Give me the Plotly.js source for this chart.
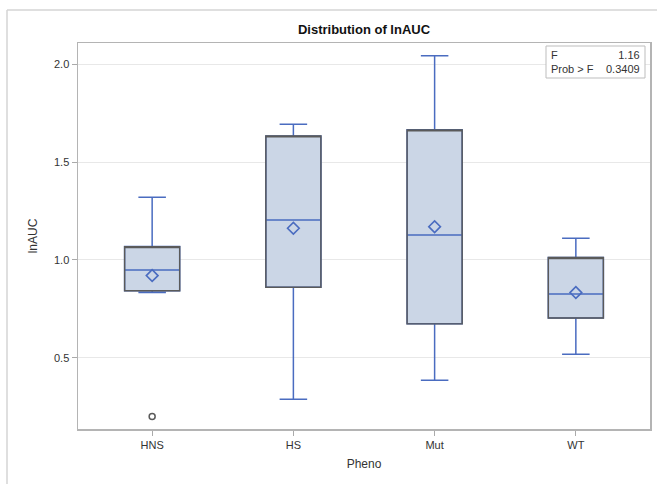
<!DOCTYPE html>
<html>
<head>
<meta charset="utf-8">
<script src="https://cdn.plot.ly/plotly-3.0.1.min.js"></script>
<style>
html,body{margin:0;padding:0;background:#fff;}
#chart{width:657px;height:484px;}
</style>
</head>
<body>
<div id="chart"></div>
<script>
// Data
var categories = ["HNS", "HS", "Mut", "WT"];
var lowerWhisker = [0.833, 0.288, 0.385, 0.518];
var q1Values = [0.842, 0.860, 0.673, 0.703];
var medianValues = [0.949, 1.204, 1.128, 0.826];
var q3Values = [1.068, 1.634, 1.665, 1.012];
var upperWhisker = [1.320, 1.694, 2.044, 1.111];
var meanValues = [0.920, 1.162, 1.170, 0.833];
var outlierCategories = ["HNS"];
var outlierValues = [0.199];
var statLabels = ["F", "Prob > F"];
var statValues = ["1.16", "0.3409"];
var yTickValues = [0.5, 1.0, 1.5, 2.0];

var blue = "#4a6cc0";
var fill = "#cbd6e6";
var outline = "#5a5a5a";
var fontFam = "Liberation Sans, Arial, sans-serif";

var traces = [
  {
    type: "box", orientation: "v",
    x: categories,
    q1: q1Values, median: medianValues, q3: q3Values,
    lowerfence: lowerWhisker, upperfence: upperWhisker,
    width: 0.39, whiskerwidth: 0.5,
    fillcolor: fill,
    line: {color: blue, width: 1.5},
    boxpoints: false, hoverinfo: "skip", showlegend: false
  },
  {
    type: "box", orientation: "v",
    x: categories,
    q1: q1Values, median: q3Values, q3: q3Values,
    lowerfence: q1Values, upperfence: q3Values,
    width: 0.39, whiskerwidth: 0,
    fillcolor: "rgba(0,0,0,0)",
    line: {color: outline, width: 1.4},
    boxpoints: false, hoverinfo: "skip", showlegend: false
  },
  {
    type: "scatter", mode: "markers",
    x: categories, y: meanValues,
    marker: {symbol: "diamond-open", size: 9, color: blue, line: {width: 1.6, color: blue}},
    hoverinfo: "skip", showlegend: false
  },
  {
    type: "scatter", mode: "markers",
    x: outlierCategories, y: outlierValues,
    marker: {symbol: "circle-open", size: 6, color: outline, line: {width: 1.5, color: outline}},
    hoverinfo: "skip", showlegend: false
  }
];

// plot area pixels: left 78, right 650, top 43, bottom 429
function px(x){ return (x - 78) / 572; }
function py(y){ return (429 - y) / 386; }

var layout = {
  width: 657, height: 484,
  margin: {l: 78, r: 7, t: 43, b: 55, pad: 0},
  paper_bgcolor: "#ffffff", plot_bgcolor: "#ffffff",
  font: {family: fontFam, size: 11, color: "#333333"},
  boxmode: "overlay",
  title: {
    text: "<b>Distribution of lnAUC</b>",
    font: {family: fontFam, size: 13, color: "#111111"},
    x: 0.5, xref: "paper", xanchor: "center",
    y: 1 - 29/484, yanchor: "middle"
  },
  xaxis: {
    type: "category",
    range: [-0.525, 3.525],
    showgrid: false, zeroline: false,
    showline: true, mirror: true, linecolor: "#b4b4b4", linewidth: 1.5,
    ticks: "outside", ticklen: 5, tickcolor: "#aaaaaa", tickwidth: 1,
    tickfont: {family: fontFam, size: 11, color: "#333333"},
    title: {text: "Pheno", font: {family: fontFam, size: 12, color: "#333333"}, standoff: 10}
  },
  yaxis: {
    range: [0.1355, 2.109],
    tickvals: yTickValues,
    tickformat: ".1f",
    showgrid: true, gridcolor: "#e8e8e8", gridwidth: 1,
    zeroline: false,
    showline: true, mirror: true, linecolor: "#b4b4b4", linewidth: 1.5,
    ticks: "outside", ticklen: 5, tickcolor: "#aaaaaa", tickwidth: 1,
    tickfont: {family: fontFam, size: 11, color: "#333333"},
    title: {text: "lnAUC", font: {family: fontFam, size: 12, color: "#333333"}, standoff: 14}
  },
  shapes: [
    {type: "line", xref: "paper", yref: "paper", x0: px(7), x1: px(660), y0: py(10), y1: py(10),
     line: {color: "#d4d4d4", width: 1.5}},
    {type: "line", xref: "paper", yref: "paper", x0: px(7), x1: px(7), y0: py(10), y1: py(490),
     line: {color: "#d4d4d4", width: 1.5}},
    {type: "rect", xref: "paper", yref: "paper", x0: px(546), x1: px(645), y0: py(46), y1: py(78),
     line: {color: "#bdbdbd", width: 1}, fillcolor: "#ffffff"}
  ],
  annotations: [
    {xref: "paper", yref: "paper", x: px(549), y: py(62), xanchor: "left", yanchor: "middle",
     align: "left", showarrow: false, text: statLabels.join("<br>"),
     font: {family: fontFam, size: 11, color: "#333333"}},
    {xref: "paper", yref: "paper", x: px(642), y: py(62), xanchor: "right", yanchor: "middle",
     align: "right", showarrow: false, text: statValues.join("<br>"),
     font: {family: fontFam, size: 11, color: "#333333"}}
  ]
};

Plotly.newPlot("chart", traces, layout, {displayModeBar: false, staticPlot: true});
</script>
</body>
</html>
